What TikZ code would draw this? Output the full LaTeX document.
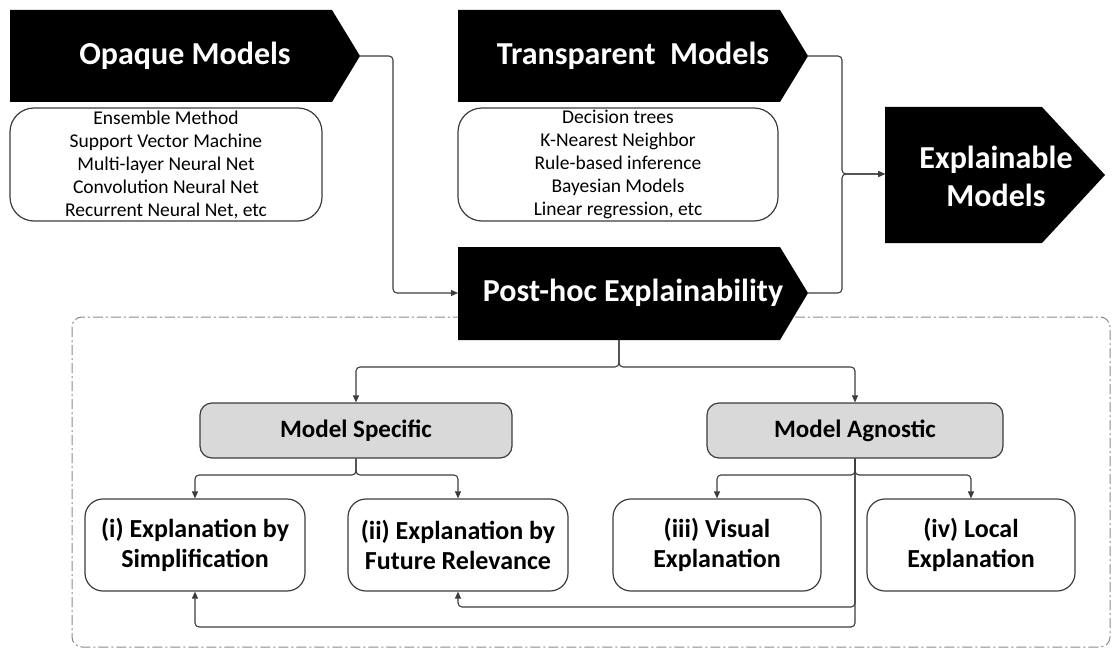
\documentclass[tikz,border=0pt]{standalone}
\usepackage{fontspec}
\setmainfont{Carlito}
\usetikzlibrary{arrows.meta}
\definecolor{linegray}{HTML}{3C3C3C}
\definecolor{boxgray}{HTML}{D9D9D9}
\definecolor{framegray}{HTML}{8A8A8A}
\tikzset{
  banner/.style={fill=black},
  bannertext/.style={text=white, font=\bfseries\fontsize{32}{38}\selectfont, align=center, inner sep=0pt},
  listbox/.style={draw=linegray, line width=1.2pt, rounded corners=24pt, fill=white, align=center,
    font=\fontsize{19.5}{23}\selectfont, inner sep=0pt},
  catbox/.style={draw=linegray, line width=1.2pt, rounded corners=12pt, fill=boxgray,
    font=\bfseries\fontsize{25}{28}\selectfont, inner sep=0pt, minimum height=55pt},
  leafbox/.style={draw=linegray, line width=1.2pt, rounded corners=18pt, fill=white, align=center,
    font=\bfseries\fontsize{26}{30}\selectfont, inner sep=0pt, minimum height=92pt},
  link/.style={draw=linegray, line width=1.1pt, rounded corners=4pt},
  arrowlink/.style={link, -{Triangle[length=7pt,width=6pt]}},
}
\begin{document}
\begin{tikzpicture}[x=1pt,y=-1pt]
\useasboundingbox (0,0) rectangle (1113,650);

% dash-dot frame around the post-hoc breakdown
\draw[framegray, line width=1pt, rounded corners=10pt,
  dash pattern=on 10pt off 3pt on 2pt off 3pt] (72,317) rectangle (1110,647);

% arrow-shaped banners
\fill[banner] (10,10) -- (332,10) -- (360,56) -- (332,102) -- (10,102) -- cycle;
\fill[banner] (458,10) -- (780,10) -- (808,56) -- (780,102) -- (458,102) -- cycle;
\fill[banner] (458,247) -- (780,247) -- (808,293) -- (780,340) -- (458,340) -- cycle;
\fill[banner] (885,107) -- (1042,107) -- (1105,175) -- (1042,243) -- (885,243) -- cycle;

\node[bannertext] (opaque) at (185,56) {Opaque Models};
\node[bannertext] (transp) at (633,56) {Transparent\ \ Models};
\node[bannertext] (posthoc) at (633,293) {Post-hoc Explainability};
\node[bannertext] (explain) at (996,176) {Explainable\\Models};

\coordinate (opaquetip) at (360,56);
\coordinate (transptip) at (808,56);
\coordinate (posthoctip) at (808,293);
\coordinate (posthocin) at (458,293);
\coordinate (posthocbot) at (619,340);
\coordinate (explainin) at (885,174);

% model lists
\node[listbox, minimum width=312pt, minimum height=113pt] (opaquelist) at (166,164.5)
  {Ensemble Method\\Support Vector Machine\\Multi-layer Neural Net\\Convolution Neural Net\\Recurrent Neural Net, etc};
\node[listbox, minimum width=320pt, minimum height=113pt] (transplist) at (618,164.5)
  {Decision trees\\K-Nearest Neighbor\\Rule-based inference\\Bayesian Models\\Linear regression, etc};

% categories
\node[catbox, minimum width=312pt] (specific) at (356,430.5) {Model Specific};
\node[catbox, minimum width=296pt] (agnostic) at (855,430.5) {Model Agnostic};

% explanation kinds
\node[leafbox, minimum width=220pt] (simpl) at (195,545) {(i) Explanation by\\Simplification};
\node[leafbox, minimum width=220pt] (relev) at (458,545) {(ii) Explanation by\\Future Relevance};
\node[leafbox, minimum width=208pt] (visual) at (717,545) {(iii) Visual\\Explanation};
\node[leafbox, minimum width=208pt] (local) at (971,545) {(iv) Local\\Explanation};

% connectors into post-hoc and explainable models
\draw[arrowlink] (opaquetip) -- (393,56) -- (393,293) -- (posthocin);
\draw[arrowlink] (transptip) -- (842,56) -- (842,174) -- (explainin);
\draw[arrowlink] (posthoctip) -- (842,293) -- (842,174) -- (explainin);

% post-hoc split
\draw[arrowlink] (posthocbot) -- (619,367) -- (356,367) -- (specific.north);
\draw[arrowlink] (posthocbot) -- (619,367) -- (855,367) -- (agnostic.north);

% model specific split
\draw[arrowlink] (specific.south) -- (356,475) -- (195,475) -- (simpl.north);
\draw[arrowlink] (specific.south) -- (356,475) -- (458,475) -- (relev.north);

% model agnostic split
\draw[arrowlink] (agnostic.south) -- (855,475) -- (717,475) -- (visual.north);
\draw[arrowlink] (agnostic.south) -- (855,475) -- (971,475) -- (local.north);
\draw[arrowlink] (agnostic.south) -- (855,607) -- (458,607) -- (relev.south);
\draw[arrowlink] (agnostic.south) -- (855,627) -- (195,627) -- (simpl.south);
\end{tikzpicture}
\end{document}
